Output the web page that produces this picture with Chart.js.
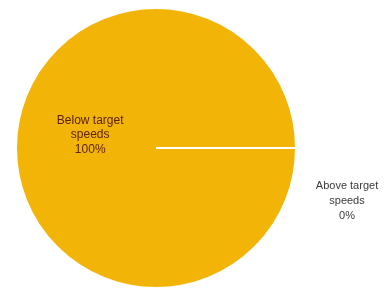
<!DOCTYPE html>
<html><head><meta charset="utf-8">
<script src="https://cdn.jsdelivr.net/npm/chart.js@4"></script>
<style>html,body{margin:0;padding:0;background:#fff}#wrap{width:389px;height:291px}</style>
</head><body><div id="wrap"><canvas id="c"></canvas></div>
<script>
const categories = ["Below target speeds", "Above target speeds"];
const values = [100, 0];
const percentLabels = ["100%", "0%"];

const labelPlugin = {
  id: 'sliceLabels',
  afterDatasetsDraw(chart) {
    const ctx = chart.ctx;
    const meta = chart.getDatasetMeta(0);
    ctx.save();
    ctx.textAlign = 'center';
    ctx.textBaseline = 'middle';
    meta.data.forEach((arc, i) => {
      const p = arc.getProps(['x','y','outerRadius'], true);
      const words = categories[i].split(' ');
      const lines = [words.slice(0, 2).join(' '), words.slice(2).join(' '), percentLabels[i]];
      let cx, cy, lh;
      if (i === 0) {
        cx = p.x - p.outerRadius * 0.47; cy = p.y - 13; lh = 14.5;
        ctx.fillStyle = '#5e220c';
        ctx.font = '12px "Liberation Sans", Arial, sans-serif';
      } else {
        cx = p.x + p.outerRadius + 51; cy = p.y + 53; lh = 15;
        ctx.fillStyle = '#3a3a3a';
        ctx.font = '11px "Liberation Sans", Arial, sans-serif';
      }
      lines.forEach((t, k) => ctx.fillText(t, cx, cy + (k - 1) * lh));
    });
    ctx.restore();
  }
};

new Chart(document.getElementById('c'), {
  type: 'pie',
  data: {
    labels: categories,
    datasets: [{
      data: values,
      backgroundColor: ['#F1B407', '#C9C9C9'],
      borderColor: ['#FFFFFF', '#FFFFFF'],
      borderWidth: [2, 0]
    }]
  },
  options: {
    responsive: true,
    maintainAspectRatio: false,
    animation: false,
    rotation: 90,
    layout: { padding: { left: 15, right: 92, top: 7, bottom: 2 } },
    plugins: { legend: { display: false }, tooltip: { enabled: false } }
  },
  plugins: [labelPlugin]
});
</script>
</body></html>
